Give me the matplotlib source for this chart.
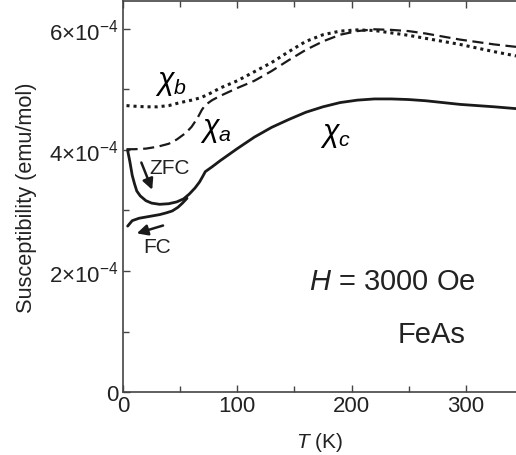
import matplotlib
matplotlib.use("Agg")
import matplotlib.pyplot as plt
import matplotlib.ticker as mticker

# --- global style ---
plt.rcParams['font.family'] = 'Liberation Sans'
plt.rcParams['mathtext.fontset'] = 'custom'
plt.rcParams['mathtext.rm'] = 'Liberation Sans'
plt.rcParams['mathtext.it'] = 'Liberation Sans:italic'
plt.rcParams['axes.unicode_minus'] = True

# --- data (T in K, susceptibility in units of 1e-4 emu/mol) ---
T_b = [3, 10, 20, 30, 40, 50, 60, 68, 75, 85, 100, 115, 130, 145, 160, 175,
       190, 205, 220, 235, 250, 265, 280, 295, 310, 325, 344]
chi_b = [4.73, 4.72, 4.71, 4.71, 4.73, 4.78, 4.82, 4.86, 4.92, 5.02, 5.14, 5.29,
         5.44, 5.62, 5.79, 5.90, 5.96, 5.98, 5.97, 5.93, 5.89, 5.84, 5.79, 5.74,
         5.68, 5.62, 5.55]

T_a = [3, 10, 20, 30, 40, 47, 55, 60, 65, 69, 72, 78, 85, 100, 115, 130, 145,
       160, 175, 190, 205, 220, 235, 250, 265, 280, 295, 310, 325, 344]
chi_a = [4.01, 4.01, 4.02, 4.05, 4.10, 4.17, 4.28, 4.38, 4.52, 4.66, 4.74, 4.82,
         4.89, 5.02, 5.14, 5.30, 5.48, 5.65, 5.79, 5.90, 5.96, 5.99, 5.98, 5.96,
         5.92, 5.87, 5.82, 5.78, 5.74, 5.70]

T_c_zfc = [4, 6, 8, 10, 12, 15, 20, 25, 32, 40, 47, 53, 58, 63, 67, 70, 72, 78,
           85, 100, 115, 130, 145, 160, 175, 190, 205, 220, 235, 250, 265, 280,
           295, 310, 325, 344]
chi_c_zfc = [3.99, 3.80, 3.58, 3.44, 3.32, 3.24, 3.16, 3.12, 3.10, 3.11, 3.14,
             3.19, 3.27, 3.37, 3.47, 3.57, 3.64, 3.72, 3.82, 4.02, 4.21, 4.37,
             4.50, 4.62, 4.71, 4.78, 4.82, 4.84, 4.84, 4.83, 4.81, 4.78, 4.75,
             4.73, 4.71, 4.68]

T_c_fc = [4, 8, 14, 20, 26, 32, 38, 43, 48, 52, 56]
chi_c_fc = [2.74, 2.83, 2.87, 2.89, 2.91, 2.93, 2.96, 2.99, 3.05, 3.12, 3.20]

yticks = [0, 2, 4, 6]
xticks = [0, 100, 200, 300]

scale = 1e-4
LINE = '#1a1a1a'
SPINE = '#444444'
TEXT = '#222222'


def sci_fmt(v, pos):
    if abs(v) < 1e-12:
        return '0'
    m = v / scale
    return r'$%d{\times}10^{-4}$' % round(m)


fig = plt.figure(figsize=(5.16, 4.56), dpi=100)
ax = fig.add_axes([0.2385, 0.138, 0.7615, 0.858])

ax.plot(T_b, [v * scale for v in chi_b], color=LINE, lw=2.2,
        linestyle=(0, (1, 1.3)))
ax.plot(T_a, [v * scale for v in chi_a], color=LINE, lw=1.6,
        linestyle=(0, (5, 2.5)))
ax.plot(T_c_zfc, [v * scale for v in chi_c_zfc], color=LINE, lw=2.0,
        solid_joinstyle='round', solid_capstyle='round')
ax.plot(T_c_fc, [v * scale for v in chi_c_fc], color=LINE, lw=2.0,
        solid_joinstyle='round', solid_capstyle='round')

ax.set_xlim(0, 344)
ax.set_ylim(0, 6.46e-4)
ax.set_xticks(xticks)
ax.set_yticks([v * scale for v in yticks])
ax.xaxis.set_minor_locator(mticker.MultipleLocator(50))
ax.yaxis.set_minor_locator(mticker.MultipleLocator(1e-4))
ax.yaxis.set_major_formatter(mticker.FuncFormatter(sci_fmt))

ax.tick_params(which='both', direction='in', top=True, right=False,
               color=SPINE, labelsize=16, labelcolor=TEXT)
ax.tick_params(which='major', length=5, width=1)
ax.tick_params(which='minor', length=4, width=1)
ax.tick_params(axis='x', pad=2)
ax.tick_params(axis='y', pad=3)
for side in ['left', 'bottom', 'top']:
    ax.spines[side].set_color(SPINE)
    ax.spines[side].set_linewidth(1.2)
ax.spines['right'].set_visible(False)

ax.set_xlabel(r'$T$ (K)', fontsize=15, color=TEXT, labelpad=10)
ax.set_ylabel('Susceptibility (emu/mol)', fontsize=15.7, color=TEXT,
              labelpad=9)

# curve labels
ax.text(42, 5.12e-4, r'$\chi_b$', fontsize=22, ha='center', va='center')
ax.text(81, 4.35e-4, r'$\chi_a$', fontsize=22, ha='center', va='center')
ax.text(186, 4.26e-4, r'$\chi_c$', fontsize=22, ha='center', va='center')

# ZFC / FC arrows
arrow_kw = dict(arrowstyle='-|>', color=LINE, lw=1.8, mutation_scale=16,
                shrinkA=0, shrinkB=0)
ax.annotate('', xy=(25.5, 3.34e-4), xytext=(16, 3.79e-4), arrowprops=arrow_kw)
ax.text(41, 3.70e-4, 'ZFC', fontsize=15, ha='center', va='center', color=TEXT)
ax.annotate('', xy=(12, 2.62e-4), xytext=(35, 2.75e-4), arrowprops=arrow_kw)
ax.text(30, 2.40e-4, 'FC', fontsize=15, ha='center', va='center', color=TEXT)

ax.text(235.5, 1.83e-4, r'$H$ = 3000 Oe', fontsize=21, ha='center',
        va='center', color=TEXT)
ax.text(270, 0.96e-4, 'FeAs', fontsize=21, ha='center', va='center',
        color=TEXT)

fig.savefig('out.png', dpi=100)
